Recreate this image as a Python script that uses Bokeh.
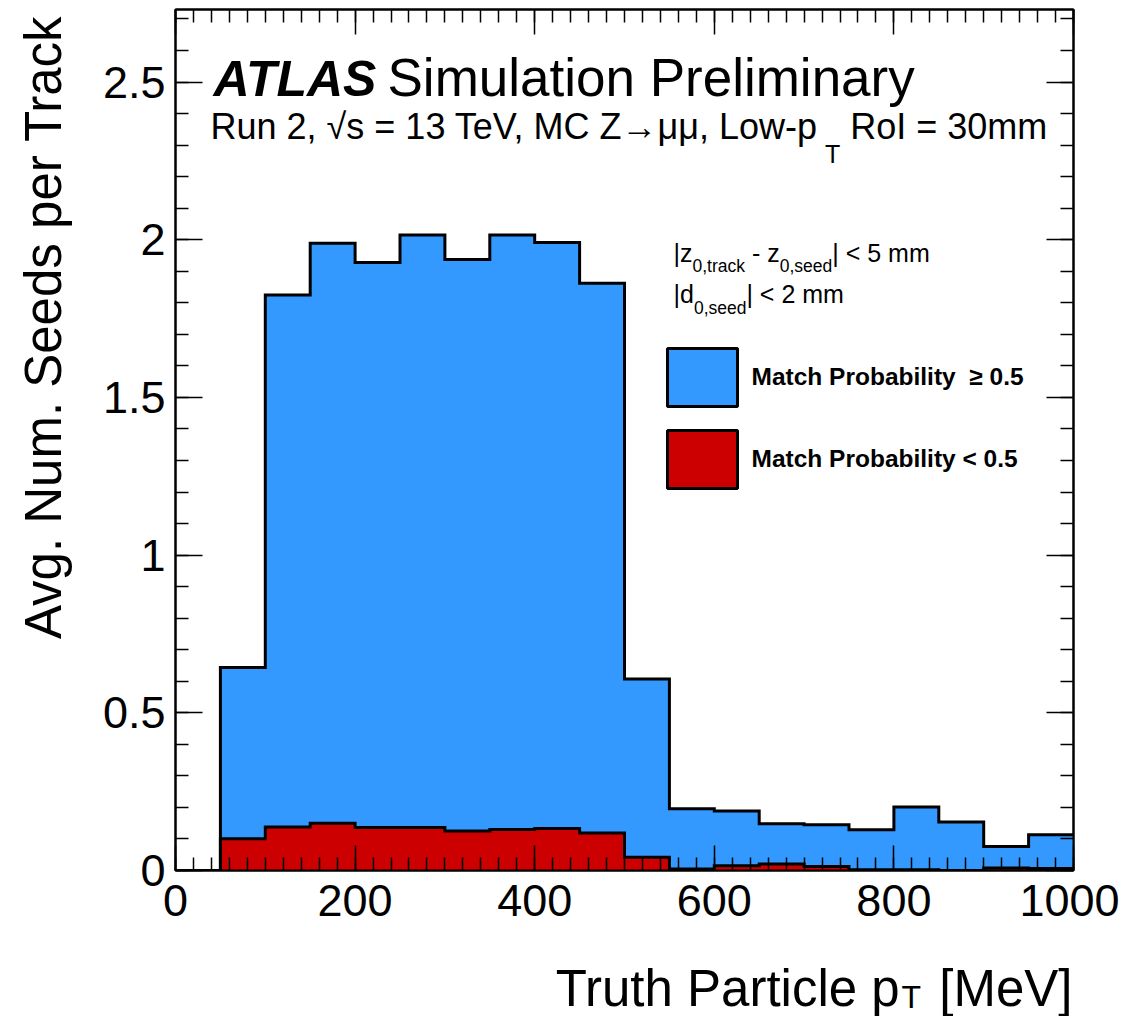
import numpy as np
from bokeh.plotting import figure
from bokeh.models import (Range1d, SingleIntervalTicker, LinearAxis, Label, BoxAnnotation,
                          NumeralTickFormatter, PrintfTickFormatter)
from bokeh.embed import file_html
from bokeh.resources import INLINE

# ---------------- data ----------------
bin_edges = [0, 50, 100, 150, 200, 250, 300, 350, 400, 450, 500,
             550, 600, 650, 700, 750, 800, 850, 900, 950, 1000]
# Match Probability < 0.5 (red, bottom of stack)
match_low = [0.000, 0.101, 0.138, 0.150, 0.136, 0.136, 0.125, 0.130, 0.133, 0.119,
             0.042, 0.005, 0.015, 0.021, 0.013, 0.002, 0.002, 0.000, 0.008, 0.006]
# Match Probability >= 0.5 (blue, stacked on top)
match_high = [0.000, 0.543, 1.687, 1.839, 1.792, 1.879, 1.812, 1.885, 1.858, 1.743,
              0.565, 0.191, 0.174, 0.127, 0.132, 0.127, 0.199, 0.154, 0.068, 0.107]
legend_labels = ["Match Probability\u00a0 \u2265 0.5", "Match Probability < 0.5"]
x_ticks_interval = 200
y_ticks_interval = 0.5

BLUE = "#3399ff"
RED = "#cc0000"
FONT = "Liberation Sans"
K = 0.35   # empirical baseline correction (fraction of font size)

# frame position on the page (pixels)
FL, FR, FT, FB = 175, 1073, 9, 870
W, H = 1119, 1016
p = figure(width=W, height=H, x_range=Range1d(0, 1000), y_range=Range1d(0, 2.73),
           output_backend="svg", toolbar_location=None,
           x_axis_type=None, y_axis_type=None,
           min_border_left=FL, min_border_right=W - FR, min_border_top=FT,
           min_border_bottom=H - FB)
p.outline_line_color = "black"
p.outline_line_width = 2
p.xgrid.visible = False
p.ygrid.visible = False
p.background_fill_color = "white"

low = np.array(match_low)
total = low + np.array(match_high)
low_ext = list(low) + [low[-1]]
total_ext = list(total) + [total[-1]]

p.varea_step(x=bin_edges, y1=[0] * len(bin_edges), y2=low_ext, step_mode="after", fill_color=RED)
p.varea_step(x=bin_edges, y1=low_ext, y2=total_ext, step_mode="after", fill_color=BLUE)
p.step(x=bin_edges, y=total_ext, mode="after", line_color="black", line_width=3, line_join="miter")
p.step(x=bin_edges, y=low_ext, mode="after", line_color="black", line_width=3, line_join="miter")

# ---------------- text helpers ----------------
ARIAL = {' ': 278, '\u00a0': 278, '\u2002': 500, ',': 278, '-': 333, '.': 278, '0': 556,
         '1': 556, '2': 556, '3': 556, '5': 556, '<': 584, '=': 584, 'C': 722, 'I': 278,
         'L': 556, 'M': 833, 'P': 667, 'R': 722, 'T': 611, 'V': 667, 'Z': 611, '[': 278,
         ']': 278, 'a': 556, 'c': 500, 'd': 556, 'e': 556, 'h': 556, 'i': 222, 'k': 500,
         'l': 222, 'm': 833, 'n': 556, 'o': 556, 'p': 556, 'r': 333, 's': 500, 't': 278,
         'u': 556, 'w': 722, 'z': 500, '|': 260, '\u221a': 549, '\u2192': 1000, '\u03bc': 576}


def width(s, size):
    return sum(ARIAL.get(ch, 556) for ch in s) * size / 1000.0


def mk(text, x, y, size, style="normal", align="left", angle=0.0):
    return Label(x=x, y=y, x_units="screen", y_units="screen", text=text,
                 text_font=FONT, text_font_size=f"{size}px", text_font_style=style,
                 text_color="black", text_align=align, text_baseline="alphabetic",
                 angle=angle)


def put(text, X, Y, size, style="normal", align="left"):
    """Label inside the frame; (X, Y) = page position of the baseline start."""
    p.add_layout(mk(text, X - FL, FB - (Y - K * size), size, style, align))


def put_pieces(pieces, X0, Y0):
    X = X0
    for text, size, dy in pieces:
        put(text, X, Y0 + dy, size)
        X += width(text, size)


# ---------------- axes ----------------
def style_axis(ax, show_labels, major_in, minor_in):
    ax.major_tick_in = major_in
    ax.major_tick_out = 0
    ax.minor_tick_in = minor_in
    ax.minor_tick_out = 0
    ax.major_tick_line_width = 1.5
    ax.minor_tick_line_width = 1.5
    ax.major_tick_line_color = "black"
    ax.minor_tick_line_color = "black"
    ax.axis_line_width = 2
    ax.axis_line_color = "black"
    if show_labels:
        ax.major_label_text_font = FONT
        ax.major_label_text_font_size = "45px"
        ax.major_label_text_color = "black"
    else:
        ax.major_label_text_font_size = "0px"
        ax.major_label_standoff = 0


def xt():
    return SingleIntervalTicker(interval=x_ticks_interval, num_minor_ticks=10)


def yt():
    return SingleIntervalTicker(interval=y_ticks_interval, num_minor_ticks=5)


xb = LinearAxis(ticker=xt())
style_axis(xb, True, 25, 13)
xb.major_label_standoff = 14
p.add_layout(xb, "below")

xa = LinearAxis(ticker=xt(), formatter=PrintfTickFormatter(format=""))
style_axis(xa, False, 25, 13)
p.add_layout(xa, "above")

yl = LinearAxis(ticker=yt(), formatter=NumeralTickFormatter(format="0.[0]"))
style_axis(yl, True, 27, 13)
yl.major_label_standoff = 10
p.add_layout(yl, "left")

yr = LinearAxis(ticker=yt(), formatter=PrintfTickFormatter(format=""))
style_axis(yr, False, 27, 13)
p.add_layout(yr, "right")

# ---------------- axis titles (side-panel labels, outside the axes) ----------------
XBELOW = 103          # measured: bottom axis panel + x-title label panel heights
YLEFT = 132           # measured: left axis panel + y-title label panel widths
XT_SIZE, XT_SUB = 51, 32
xtitle = "Truth Particle p\u2002\u00a0[MeV]"
xpanel_bottom = FB + XBELOW
p.add_layout(mk(xtitle, 1072 - FL, xpanel_bottom - (1004 - K * XT_SIZE), XT_SIZE,
                align="right"), "below")
ypanel_left = FL - YLEFT
p.add_layout(mk("Avg. Num. Seeds per Track", (62 - K * XT_SIZE) - ypanel_left, FB - 15, XT_SIZE,
                align="right", angle=np.pi / 2), "left")
# subscript T of the x title (right side panel, positioned freely)
p_end = 1072 - width(xtitle, XT_SIZE) + width("Truth Particle p", XT_SIZE)
p.add_layout(mk("T", p_end + 2 - FR, FB - (1008 - K * XT_SUB), XT_SUB), "right")

# ---------------- legend (boxes + labels) ----------------
box_tops = [348, 430]
for i, (col, lab) in enumerate(zip([BLUE, RED], legend_labels)):
    top = box_tops[i]
    p.add_layout(BoxAnnotation(left=667 - FL, right=737 - FL, top=FB - top, bottom=FB - top - 58,
                               left_units="screen", right_units="screen", top_units="screen",
                               bottom_units="screen", fill_color=col, fill_alpha=1,
                               line_color="black", line_width=3, line_alpha=1))
    put(lab, 751, top + 37, 24.5, style="bold")

# ATLAS label
put("ATLAS", 213, 96, 50, style="bold italic")
put("Simulation Preliminary", 387, 96, 53)
put_pieces([("Run 2, \u221as = 13 TeV, MC Z\u2192\u03bc\u03bc, Low-p", 36, 0),
            ("T", 25, 23),
            ("\u00a0RoI = 30mm", 36, 0)], 210, 139)

# cut texts
put_pieces([("|z", 25, 0), ("0,track", 17.5, 11), ("\u00a0- z", 25, 0), ("0,seed", 17.5, 11),
            ("| < 5 mm", 25, 0)], 673, 261)
put_pieces([("|d", 25, 0), ("0,seed", 17.5, 12), ("| < 2 mm", 25, 0)], 673, 302)

open("out.html", "w").write(file_html(p, INLINE))
